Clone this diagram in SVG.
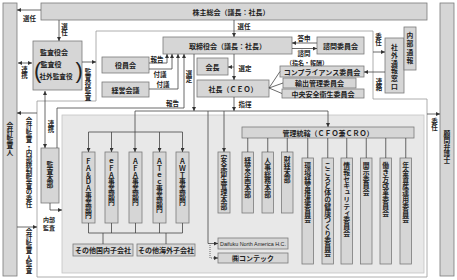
<svg xmlns="http://www.w3.org/2000/svg" width="457" height="280" viewBox="0 0 457 280">
<style>
text{font-family:"Noto Sans CJK JP","Noto Sans CJK SC",sans-serif;fill:#222;}
.b{fill:#d6d6d6;stroke:#7a7a7a;stroke-width:0.8;}
.t{font-size:7px;text-anchor:middle;dominant-baseline:central;font-weight:bold;}
.v{writing-mode:vertical-rl;font-size:6.8px;font-weight:bold;}
.l{font-size:6.5px;text-anchor:middle;font-weight:bold;}
.lv{writing-mode:vertical-rl;font-size:6.5px;font-weight:bold;}
.c{fill:none;stroke:#444;stroke-width:0.8;}
.a{marker-end:url(#ah);}
.d{marker-start:url(#ah);marker-end:url(#ah);}
.dot{stroke-dasharray:1 1;}
.p{font-family:"Liberation Sans",sans-serif;font-size:22px;}
</style>
<defs>
<marker id="ah" viewBox="0 0 6 6" refX="6" refY="3" markerUnits="userSpaceOnUse" markerWidth="4" markerHeight="4" orient="auto-start-reverse"><path d="M0,0L6,3L0,6z" fill="#333"/></marker>
</defs>
<rect width="457" height="280" fill="#fff"/>

<g id="frame">
<path d="M96,31H373V99H427V277H37V101H96Z" fill="#fff" stroke="#999" stroke-width="0.8"/>
<rect x="62" y="115" width="362" height="158" fill="#e8e8e8" stroke="#c4c4c4" stroke-width="0.8"/>
</g>

<g id="auditor-ext"><rect class="b" x="3" y="3" width="14" height="273"/><text class="v" x="10" y="122">会計監査人</text></g>
<g id="lawyer"><rect class="b" x="440" y="3" width="14" height="273"/><text class="v" x="447" y="130">顧問弁護士</text></g>
<g id="shareholders"><rect class="b" x="41" y="3" width="386" height="17"/><text class="t" x="231" y="11.5">株主総会（議長：社長）</text></g>

<g id="kansayakukai"><rect class="b" x="33" y="41" width="49" height="49"/>
<text class="t" x="54" y="52">監査役会</text>
<text class="t" x="51" y="63.5">監査役</text>
<text class="t" x="56" y="75.5" style="font-size:6.6px">社外監査役</text>
<text class="p" x="34" y="78">(</text>
<text class="p" x="75.5" y="78">)</text>
</g>

<g id="board"><rect class="b" x="163" y="37" width="129" height="17"/><text class="t" x="227.5" y="45.5">取締役会（議長：社長）</text></g>
<g id="advisory"><rect class="b" x="317" y="37" width="47" height="17"/><text class="t" x="340.5" y="45.5">諮問委員会</text></g>
<g id="yakuinkai"><rect class="b" x="102" y="57" width="47" height="16"/><text class="t" x="125.5" y="65">役員会</text></g>
<g id="keieikaigi"><rect class="b" x="102" y="82" width="47" height="15"/><text class="t" x="125.5" y="89.5">経営会議</text></g>
<g id="chairman"><rect class="b" x="197" y="58" width="31" height="17"/><text class="t" x="212.5" y="66.5">会長</text></g>
<g id="ceo"><rect class="b" x="197" y="80" width="72" height="17"/><text class="t" x="233" y="88.5">社長（ＣＥＯ）</text></g>
<g id="compliance"><rect class="b" x="280" y="66" width="84" height="11"/><text class="t" x="322" y="71.5">コンプライアンス委員会</text></g>
<g id="export"><rect class="b" x="283" y="78" width="73" height="10"/><text class="t" x="319.5" y="83">輸出管理委員会</text></g>
<g id="safety-central"><rect class="b" x="282" y="89" width="82" height="9"/><text class="t" x="323" y="93.5">中央安全衛生委員会</text></g>
<g id="external-window"><rect class="b" x="385" y="38" width="19" height="55"/><text class="v" x="394.5" y="44" style="letter-spacing:1px">社外通報窓口</text></g>
<g id="internal-report"><rect class="b" x="404" y="27" width="12" height="43"/><text class="v" x="410" y="32" style="letter-spacing:1.5px">内部通報</text></g>

<g id="audit-dept"><rect class="b" x="41" y="148" width="18" height="55"/><text class="v" x="50" y="161">監査本部</text></g>

<g id="bu-fada"><rect class="b" x="82" y="152" width="13" height="71"/><text class="v" x="88.5" y="158">ＦＡ＆ＤＡ事業部門</text></g>
<g id="bu-efa"><rect class="b" x="105" y="152" width="13" height="71"/><text class="v" x="111.5" y="158">ｅＦＡ事業部門</text></g>
<g id="bu-afa"><rect class="b" x="129" y="152" width="13" height="71"/><text class="v" x="135.5" y="158">ＡＦＡ事業部門</text></g>
<g id="bu-atec"><rect class="b" x="153" y="152" width="13" height="71"/><text class="v" x="159.5" y="158">ＡＴｅｃ事業部門</text></g>
<g id="bu-awt"><rect class="b" x="176" y="152" width="13" height="71"/><text class="v" x="182.5" y="158">ＡＷＴ事業部門</text></g>
<g id="sub-domestic"><rect class="b" x="73" y="244" width="60" height="12"/><text class="t" x="103" y="250">その他国内子会社</text></g>
<g id="sub-overseas"><rect class="b" x="137" y="244" width="58" height="12"/><text class="t" x="166" y="250">その他海外子会社</text></g>
<g id="dna"><rect class="b" x="218" y="238" width="70" height="11"/><text x="253" y="245.5" textLength="66" lengthAdjust="spacingAndGlyphs" style="font-family:'Liberation Sans',sans-serif;font-size:6px;text-anchor:middle">Daifuku North America H.C.</text></g>
<g id="contec"><rect class="b" x="218" y="253" width="70" height="10"/><text class="t" x="253" y="258">㈱コンテック</text></g>

<g id="safety-hq"><rect class="b" x="218" y="152" width="12" height="61"/><text class="v" x="224" y="155">安全衛生管理本部</text></g>
<g id="admin"><rect class="b" x="242" y="127" width="172" height="11"/><text class="t" x="328" y="132.5">管理統轄（ＣＦＯ兼ＣＲＯ）</text></g>
<g id="planning"><rect class="b" x="242" y="152" width="11.5" height="61"/><text class="v" x="247.75" y="157">経営企画本部</text></g>
<g id="hr"><rect class="b" x="262" y="152" width="11.5" height="61"/><text class="v" x="267.75" y="157">人事総務本部</text></g>
<g id="finance"><rect class="b" x="281.5" y="152" width="11.5" height="61"/><text class="v" x="287.25" y="156">財経本部</text></g>
<g id="env"><rect class="b" x="302" y="158" width="11.5" height="106"/><text class="v" x="307.75" y="162">環境経営推進委員会</text></g>
<g id="health"><rect class="b" x="322" y="158" width="11.5" height="106"/><text class="v" x="327.75" y="162">こころと体の健康づくり委員会</text></g>
<g id="infosec"><rect class="b" x="341" y="158" width="11.5" height="106"/><text class="v" x="346.75" y="162">情報セキュリティ委員会</text></g>
<g id="disclosure"><rect class="b" x="360.5" y="158" width="11.5" height="106"/><text class="v" x="366.25" y="162">開示委員会</text></g>
<g id="workstyle"><rect class="b" x="380" y="158" width="11.5" height="106"/><text class="v" x="385.75" y="162">働き方改革委員会</text></g>
<g id="pension"><rect class="b" x="400" y="158" width="11.5" height="106"/><text class="v" x="405.75" y="162">年金資産運用委員会</text></g>

<g id="connectors">
<path class="c a" d="M41,10H17"/>
<path class="c a" d="M59,20V41"/>
<path class="c a" d="M234,20V37"/>
<path class="c d" d="M32,63H18"/>
<path class="c a" d="M82,62H96"/>
<path class="c d" d="M45,91V148"/>
<path class="c a" d="M292,48.5H317"/>
<path class="c a" d="M317,43H292"/>
<path class="c a" d="M234,54V80"/>
<path class="c a" d="M234,67H228"/>
<path class="c a" d="M149,63H167V54"/>
<path class="c a" d="M149,69H172V54"/>
<path class="c a" d="M149,89H178V54"/>
<path class="c a" d="M57,148V108H184V54"/>
<path class="c a" d="M194,54V111"/>
<path class="c a" d="M234,97V111"/>
<path class="c a" d="M135,111H328V127"/>
<path class="c a" d="M135,111V152"/>
<path class="c" d="M88.5,132H182.5"/>
<path class="c a" d="M88.5,132V152"/>
<path class="c a" d="M111.5,132V152"/>
<path class="c a" d="M159.5,132V152"/>
<path class="c a" d="M182.5,132V152"/>
<path class="c a" d="M224,111V152"/>
<path class="c a" d="M208,111V243.5H218"/>
<path class="c dot a" d="M210,245V258H218"/>
<path class="c" d="M247.75,138V152M267.75,138V152M287.25,138V152M307.75,138V158M327.75,138V158M346.75,138V158M366.25,138V158M385.75,138V158M405.75,138V158"/>
<path class="c" d="M88.5,223V233M111.5,223V233M135.5,223V233M159.5,223V233M182.5,223V233M88.5,233H182.5M103,233V244M166,233V244"/>
<path class="c a" d="M50,203V210H62"/>
<path class="c a" d="M37,113H17"/>
<path class="c a" d="M17,227H37"/>
<path class="c a" d="M427,114H440"/>
<path class="c a" d="M373,52H385"/>
<path class="c a" d="M385,72H364"/>
<path class="c" d="M269,88L280,71.5M269,88L283,83M269,88L282,93.5"/>
</g>

<g id="labels">
<text class="l" x="29.5" y="20.5">選任</text>
<text class="lv" x="64.5" y="23">選任</text>
<text class="l" x="244" y="29">選任</text>
<text class="lv" x="24.5" y="66">連携</text>
<text class="lv" x="88" y="68">監査役監査</text>
<text class="l" x="304" y="41">答申</text>
<text class="l" x="304" y="56">諮問</text>
<text class="l" x="307" y="65" style="font-size:6px">（指名・報酬）</text>
<text class="l" x="245" y="71">選定</text>
<text class="lv" x="189" y="70">選定</text>
<text class="l" x="157" y="61.5">報告</text>
<text class="l" x="160" y="77">付議</text>
<text class="l" x="163" y="87">付議</text>
<text class="l" x="172.5" y="106">報告</text>
<text class="l" x="245" y="106.5">指揮</text>
<text class="lv" x="51" y="120">連携</text>
<text class="lv" x="29" y="117">会計監査・内部統制監査の委任</text>
<text class="lv" x="29" y="228">会計監査人監査</text>
<text class="l" x="49" y="222" style="font-size:6px">内部</text>
<text class="l" x="49" y="230" style="font-size:6px">監査</text>
<text class="lv" x="378.5" y="33">委任</text>
<text class="lv" x="379" y="78">連絡</text>
<text class="lv" x="434.5" y="118">委任</text>
</g>
</svg>
